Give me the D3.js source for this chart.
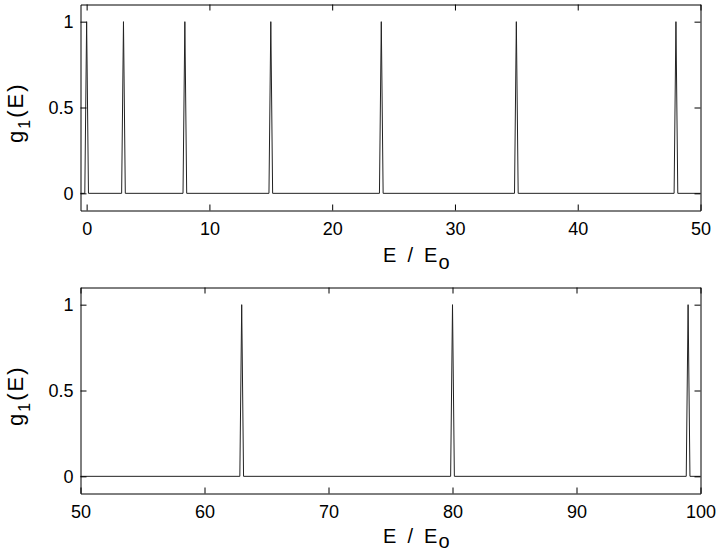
<!DOCTYPE html>
<html>
<head>
<meta charset="utf-8">
<script src="https://cdn.jsdelivr.net/npm/d3@7"></script>
<style>
  body { margin: 0; background: #fff; }
  svg text { font-family: "Liberation Sans", Arial, Helvetica, sans-serif; fill: #000; }
</style>
</head>
<body>
<svg id="chart" width="724" height="553"></svg>
<script>
// ---- data ----
const topE = [-0.5, -0.15, 0, 0.15, 2.85, 3, 3.15, 7.85, 8, 8.15, 14.85, 15, 15.15, 23.85, 24, 24.15,
              34.85, 35, 35.15, 47.85, 48, 48.15, 50];
const topG = [0, 0, 1, 0, 0, 1, 0, 0, 1, 0, 0, 1, 0, 0, 1, 0, 0, 1, 0, 0, 1, 0, 0];
const botE = [50, 62.85, 63, 63.15, 79.85, 80, 80.15, 98.85, 99, 99.15, 100];
const botG = [0, 0, 1, 0, 0, 1, 0, 0, 1, 0, 0];
const topXTicks = [0, 10, 20, 30, 40, 50];
const botXTicks = [50, 60, 70, 80, 90, 100];
const yTicks = [0, 0.5, 1];
const yTickLabels = ["0", "0.5", "1"];

const svg = d3.select("#chart");

const panels = [
  { xd: [-0.5, 50], xt: topXTicks, e: topE, g: topG, top: 4.5, bottom: 210.5, lab: 51.5, sub: 6.5 },
  { xd: [50, 100], xt: botXTicks, e: botE, g: botG, top: 287.5, bottom: 493.5, lab: 49.5, sub: 5 }
];
const left = 80.5, right = 700.5, tick = 6;

panels.forEach(p => {
  const x = d3.scaleLinear().domain(p.xd).range([left, right]);
  const y = d3.scaleLinear().domain([-0.1, 1.1]).range([p.bottom, p.top]);
  const g = svg.append("g");

  // curve
  const pts = p.e.map((v, i) => [v, p.g[i]]);
  g.append("path")
    .datum(pts)
    .attr("fill", "none")
    .attr("stroke", "#222")
    .attr("stroke-width", 1)
    .attr("d", d3.line().x(d => x(d[0])).y(d => y(d[1])));

  // axes (ticks inward, all four sides)
  const axB = d3.axisBottom(x).tickValues(p.xt).tickSizeInner(-tick).tickSizeOuter(0).tickPadding(12).tickFormat(d3.format("d"));
  const axT = d3.axisTop(x).tickValues(p.xt).tickSizeInner(-tick).tickSizeOuter(0).tickFormat("");
  const axL = d3.axisLeft(y).tickValues(yTicks).tickSizeInner(-tick).tickSizeOuter(0).tickPadding(12)
                .tickFormat((d, i) => yTickLabels[i]);
  const axR = d3.axisRight(y).tickValues(yTicks).tickSizeInner(-tick).tickSizeOuter(0).tickFormat("");

  const gb = g.append("g").attr("transform", `translate(0,${p.bottom})`).call(axB);
  const gt = g.append("g").attr("transform", `translate(0,${p.top})`).call(axT);
  const gl = g.append("g").attr("transform", `translate(${left},0)`).call(axL);
  const gr = g.append("g").attr("transform", `translate(${right},0)`).call(axR);
  [gb, gt, gl, gr].forEach(a => {
    a.select(".domain").attr("stroke", "#000").attr("stroke-width", 1);
    a.selectAll(".tick line").attr("stroke", "#000");
    a.selectAll("text").style("font-size", "18px").attr("fill", "#000");
  });
  gb.selectAll("text").attr("dy", "0.71em").attr("y", 12);
  gl.selectAll("text").attr("x", -7);

  // x label
  const xl = g.append("text")
    .attr("x", 383).attr("y", p.bottom + p.lab)
    .style("font-size", "20px")
    .attr("xml:space", "preserve")
    .style("white-space", "pre");
  xl.append("tspan").text("E  /  E");
  xl.append("tspan").attr("dy", p.sub).attr("dx", 1).text("o");

  // y label
  const yl = g.append("text")
    .attr("transform", `translate(23,${p.top + 138.5}) rotate(-90)`)
    .style("font-size", "22px")
    .style("letter-spacing", "2px");
  yl.append("tspan").text("g");
  yl.append("tspan").attr("dy", 7).style("font-size", "16px").text("1");
  yl.append("tspan").attr("dy", -7).text("(E)");
});
</script>
</body>
</html>
